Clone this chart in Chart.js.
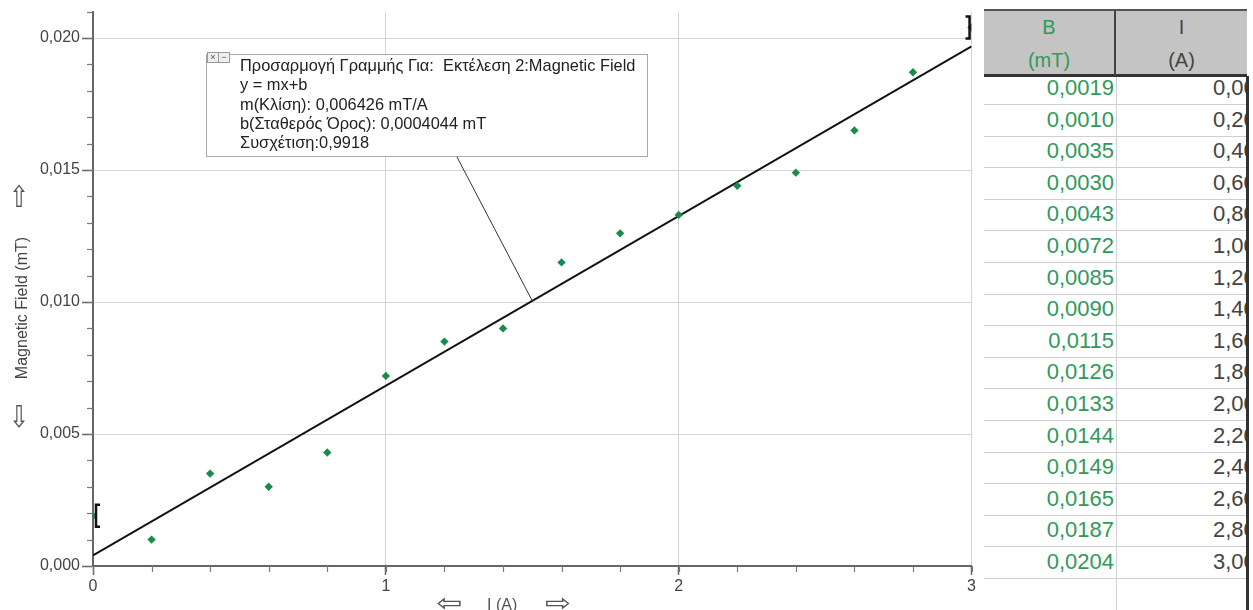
<!DOCTYPE html>
<html>
<head>
<meta charset="utf-8">
<script src="https://cdn.jsdelivr.net/npm/chart.js@4"></script>
<style>
  html, body { margin:0; padding:0; background:#fff; width:1253px; height:610px; overflow:hidden; font-family:"Liberation Sans", Arial, sans-serif; }
  #wrap { position:absolute; left:0; top:0; width:978px; height:610px; }
  .abs { position:absolute; white-space:nowrap; }
  #fitbox { position:absolute; left:206px; top:54px; width:442px; height:103px; border:1px solid #a8a8a8; background:#fff; box-sizing:border-box; }
  #fitbox .txt { position:absolute; left:33px; top:1px; font-size:16.4px; line-height:19.3px; color:#222; }
  .ico { position:absolute; top:-3px; width:10px; height:9px; border:1px solid #999; background:#eee; font-size:9px; line-height:9px; text-align:center; color:#555; }
  #tbl { position:absolute; left:984px; top:0px; width:263px; height:610px; overflow:hidden; }
  .hdr { position:absolute; top:9px; height:63px; background:#c4c4c4; border-top:2px solid #555; border-bottom:3px solid #333; text-align:center; font-size:20px; line-height:33px; z-index:2; }
  .row { position:absolute; left:0; width:263px; height:31px; border-bottom:1px solid #cfcfcf; box-sizing:content-box; }
  .row .b, .row .i { position:absolute; top:0; height:29px; line-height:29px; font-size:22px; white-space:nowrap; overflow:hidden; }
  .row .b { left:0; width:130px; text-align:right; color:#2f9a5a; }
  .row .i { left:132px; width:131px; color:#444; }
  .row .i span { position:absolute; left:97px; }
  #coldiv { position:absolute; left:132px; top:76px; width:1px; height:534px; background:#d0d0d0; }
  #rb { position:absolute; left:1246px; top:76px; width:3px; height:534px; background:#333; }
</style>
</head>
<body>
<div id="wrap"><canvas id="c"></canvas></div>

<div class="abs" style="left:9px; top:183px; font-size:24px; color:#555; font-family:'DejaVu Sans'; transform:scaleY(1.25);">⇧</div>
<div class="abs" style="left:9px; top:403px; font-size:24px; color:#555; font-family:'DejaVu Sans'; transform:scaleY(1.25);">⇩</div>
<div class="abs" style="left:22px; top:308px; font-size:16px; color:#444; transform:translate(-50%,-50%) rotate(-90deg);">Magnetic Field (mT)</div>
<div class="abs" style="left:436px; top:589px; font-size:24px; color:#555; font-family:'DejaVu Sans'; transform:scaleX(1.3); transform-origin:left center;">⇦</div>
<div class="abs" style="left:487px; top:596px; font-size:16px; color:#555;">I (A)</div>
<div class="abs" style="left:545px; top:589px; font-size:24px; color:#555; font-family:'DejaVu Sans'; transform:scaleX(1.3); transform-origin:left center;">⇨</div>

<div id="fitbox">
  <div class="ico" style="left:0px;">×</div>
  <div class="ico" style="left:11px;">−</div>
  <div class="txt" id="fittxt"></div>
</div>

<div id="tbl"></div>
<div id="rb"></div>

<script>
// ---- data ----
const currentA = [0.0, 0.2, 0.4, 0.6, 0.8, 1.0, 1.2, 1.4, 1.6, 1.8, 2.0, 2.2, 2.4, 2.6, 2.8, 3.0];
const fieldMT  = [0.0019, 0.0010, 0.0035, 0.0030, 0.0043, 0.0072, 0.0085, 0.0090, 0.0115, 0.0126, 0.0133, 0.0144, 0.0149, 0.0165, 0.0187, 0.0204];
const fitSlope = 0.006426;
const fitIntercept = 0.0004044;
const fitCorrelation = 0.9918;
const fitRangeI = [0.0, 3.0];
const yMajorTicks = [0, 0.005, 0.010, 0.015, 0.020];
const xMajorTicks = [0, 1, 2, 3];
const yRange = [0, 0.021];
const xRange = [0, 3];
const yMinorStep = 0.001;
const xMinorStep = 0.2;
const leaderI = 1.5;

const comma = (v, d) => v.toFixed(d).replace('.', ',');

// fit box text
document.getElementById('fittxt').innerHTML =
  'Προσαρμογή Γραμμής Για:&nbsp; Εκτέλεση 2:Magnetic Field<br>' +
  'y = mx+b<br>' +
  'm(Κλίση): ' + comma(fitSlope, 6) + ' mT/A<br>' +
  'b(Σταθερός Όρος): ' + comma(fitIntercept, 7) + ' mT<br>' +
  'Συσχέτιση:' + comma(fitCorrelation, 4);

// table
const ROW_H = 31.6, ROW0 = 73;
let html = '<div class="hdr" style="left:0; width:130px; color:#2f9a5a; border-right:2px solid #444;">B<br>(mT)</div>' +
           '<div class="hdr" style="left:132px; width:131px; color:#444;">I<br>(A)</div>' +
           '<div id="coldiv"></div>';
for (let k = 0; k <= currentA.length; k++) {
  const top = ROW0 + k * ROW_H;
  const bTxt = k < currentA.length ? comma(fieldMT[k], 4) : '';
  const iTxt = k < currentA.length ? comma(currentA[k], 2) : '';
  html += '<div class="row" style="top:' + top + 'px"><div class="b">' + bTxt + '</div><div class="i"><span>' + iTxt + '</span></div></div>';
}
document.getElementById('tbl').innerHTML = html;

const pts = currentA.map((x, k) => ({ x: x, y: fieldMT[k] }));
const fitPts = fitRangeI.map(x => ({ x: x, y: fitSlope * x + fitIntercept }));

const extras = {
  id: 'extras',
  afterDraw(chart) {
    const ctx = chart.ctx, xs = chart.scales.x, ys = chart.scales.y;
    ctx.save();
    // minor ticks
    ctx.strokeStyle = '#777'; ctx.lineWidth = 1.2;
    const ax = xs.left, ay = ys.bottom;
    for (let v = yRange[0]; v <= yRange[1] + 1e-9; v += yMinorStep) {
      const p = Math.round(ys.getPixelForValue(v)) + 0.5;
      ctx.beginPath(); ctx.moveTo(ax - 6, p); ctx.lineTo(ax, p); ctx.stroke();
    }
    for (let v = xRange[0]; v <= xRange[1] + 1e-9; v += xMinorStep) {
      const p = Math.round(xs.getPixelForValue(v)) + 0.5;
      ctx.beginPath(); ctx.moveTo(p, ay); ctx.lineTo(p, ay + 6); ctx.stroke();
    }
    // fit range brackets
    ctx.strokeStyle = '#111'; ctx.lineWidth = 2.5;
    const b0x = xs.getPixelForValue(fitRangeI[0]) + 3, b0y = ys.getPixelForValue(fieldMT[0]);
    ctx.beginPath(); ctx.moveTo(b0x + 4, b0y - 11); ctx.lineTo(b0x, b0y - 11); ctx.lineTo(b0x, b0y + 11); ctx.lineTo(b0x + 4, b0y + 11); ctx.stroke();
    const b1x = xs.getPixelForValue(fitRangeI[1]) - 2, b1y = ys.getPixelForValue(fieldMT[fieldMT.length - 1]);
    ctx.beginPath(); ctx.moveTo(b1x - 4, b1y - 11); ctx.lineTo(b1x, b1y - 11); ctx.lineTo(b1x, b1y + 11); ctx.lineTo(b1x - 4, b1y + 11); ctx.stroke();
    // leader line from fit box to fit line
    ctx.strokeStyle = '#333'; ctx.lineWidth = 1;
    ctx.beginPath();
    ctx.moveTo(457, 157);
    ctx.lineTo(xs.getPixelForValue(leaderI), ys.getPixelForValue(fitSlope * leaderI + fitIntercept));
    ctx.stroke();
    ctx.restore();
  }
};

new Chart(document.getElementById('c'), {
  type: 'scatter',
  data: {
    datasets: [
      { label: 'fit', type: 'line', data: fitPts, borderColor: '#111', borderWidth: 2, pointRadius: 0, fill: false, order: 2 },
      { label: 'Magnetic Field', data: pts, pointStyle: 'rectRot', pointRadius: 4.2, backgroundColor: '#1a8a4e', borderColor: '#1a8a4e', borderWidth: 0, clip: 0, order: 1 }
    ]
  },
  options: {
    responsive: true,
    maintainAspectRatio: false,
    animation: false,
    events: [],
    layout: { padding: { top: 10, right: 0, left: 0, bottom: 0 } },
    plugins: { legend: { display: false }, tooltip: { enabled: false } },
    scales: {
      x: {
        type: 'linear', min: xRange[0], max: xRange[1],
        afterBuildTicks: s => { s.ticks = xMajorTicks.map(v => ({ value: v })); },
        afterFit: s => { s.height = 44; },
        ticks: { color: '#444', font: { family: 'Liberation Sans', size: 16 }, padding: 2, maxRotation: 0, callback: v => String(v) },
        grid: { color: '#d4d4d4', lineWidth: 1, tickColor: '#666', tickLength: 9, tickWidth: 1.5 },
        border: { color: '#666', width: 2 }
      },
      y: {
        type: 'linear', min: yRange[0], max: yRange[1],
        afterBuildTicks: s => { s.ticks = yMajorTicks.map(v => ({ value: v })); },
        afterFit: s => { s.width = 93; },
        ticks: { color: '#444', font: { family: 'Liberation Sans', size: 16 }, padding: 2, callback: v => comma(v, 3) },
        grid: { color: '#d4d4d4', lineWidth: 1, tickColor: '#666', tickLength: 11, tickWidth: 1.5 },
        border: { color: '#666', width: 2 }
      }
    }
  },
  plugins: [extras]
});
</script>
</body>
</html>
